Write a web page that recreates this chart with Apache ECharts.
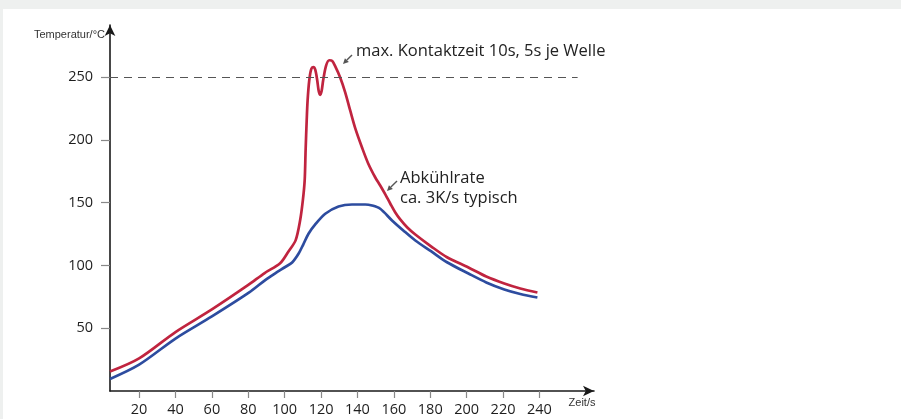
<!DOCTYPE html>
<html>
<head>
<meta charset="utf-8">
<style>
  html, body { margin: 0; padding: 0; background: #eef0ef; }
  #sheet { position: absolute; left: 3px; top: 9px; width: 898px; height: 410px; background: #ffffff; }
  #chart { position: absolute; left: 0; top: 0; width: 901px; height: 419px; }
</style>
<script src="https://cdn.jsdelivr.net/npm/echarts@6/dist/echarts.min.js"></script>
</head>
<body>
<div id="sheet"></div>
<div id="chart"></div>
<script>
// Soldering profile: board temperature over time (s, °C)
const redTime = [4, 20, 40, 60, 80, 89, 97.5, 102, 106, 108.5, 110, 111, 111.5, 112.1, 112.6,
  113.5, 114.6, 115.7, 116.8, 117.9, 118.7, 119.5, 120.3, 121.2, 122.8, 124.5, 126.1, 127.8,
  130.5, 133.3, 136, 138.8, 142.5, 145.9, 149.8, 152.5, 155.3, 158, 160.8, 163.5, 167.4,
  171.8, 180.6, 189.2, 201, 210.8, 220.7, 229.5, 238.9];
const redTemp = [15.5, 26, 47, 65, 84.5, 94, 101.8, 111, 120, 136, 152, 168, 191.6, 215.5, 231.5,
  247.4, 256.5, 258, 256, 247.4, 239, 236, 239, 248, 259.4, 263.5, 263, 258.6,
  249.8, 237.8, 223.5, 209.2, 194, 181.3, 170.1, 163.7, 156.6, 149.4, 142.2, 136.7, 130.3,
  124.7, 115.1, 106.6, 98.4, 91.2, 85.7, 81.7, 78.5];

const blueTime = [4, 20, 40, 60, 80.5, 89.3, 94.8, 100.3, 104.1, 107.6, 110.2, 113.1, 116.8,
  122.3, 129.6, 137, 144.3, 148, 152.5, 159, 165.2, 171.8, 180.6, 189.2, 201, 210.8, 220.7,
  229.5, 238.9];
const blueTemp = [9.6, 21, 41.8, 59.4, 78.5, 88.4, 93.8, 98.8, 102.4, 109.3, 116.7, 125.3, 132.7,
  141.2, 147, 148.6, 148.6, 147.8, 145.2, 135.9, 127.9, 119.9, 111.2, 102.6, 93.6, 86.5, 80.9,
  77.3, 74.5];

const xTicks = [20, 40, 60, 80, 100, 120, 140, 160, 180, 200, 220, 240];
const yTicks = [50, 100, 150, 200, 250];
const limitTemp = 250;
const limitEnd = 261;

const labelFont = '"Open Sans", "Noto Sans", sans-serif';
const smallFont = '"Liberation Sans", Arial, sans-serif';

function pairs(xs, ys) { return xs.map((x, i) => [x, ys[i]]); }

// small gray pointer arrow from tail to tip
function arrow(tail, tip) {
  const dx = tip[0] - tail[0], dy = tip[1] - tail[1];
  const len = Math.hypot(dx, dy), ux = dx / len, uy = dy / len;
  const head = 5.5, half = 2.8;
  const bx = tip[0] - ux * head, by = tip[1] - uy * head;
  return {
    type: 'group',
    children: [
      { type: 'line', shape: { x1: tail[0], y1: tail[1], x2: bx, y2: by },
        style: { stroke: '#555', lineWidth: 1.4 } },
      { type: 'polygon', shape: { points: [tip, [bx - uy * half, by + ux * half], [bx + uy * half, by - ux * half]] },
        style: { fill: '#555' } }
    ]
  };
}

const chart = echarts.init(document.getElementById('chart'), null, { renderer: 'canvas' });
chart.setOption({
  backgroundColor: 'transparent',
  animation: false,
  grid: { left: 110, right: 307, top: 25, bottom: 28, containLabel: false },
  xAxis: {
    type: 'value', min: 4, max: 270,
    splitLine: { show: false },
    axisLine: { show: true, lineStyle: { color: '#1a1a1a', width: 1.6 },
      symbol: ['none', 'arrow'], symbolSize: [8, 11] },
    axisTick: { show: true, customValues: xTicks, length: 7, lineStyle: { color: '#888', width: 1.2 } },
    axisLabel: { customValues: xTicks, margin: 11, color: '#1e1e1e', fontSize: 14.5, fontFamily: labelFont }
  },
  yAxis: {
    type: 'value', min: 0, max: 291.6,
    splitLine: { show: false },
    axisLine: { show: true, lineStyle: { color: '#1a1a1a', width: 1.6 },
      symbol: ['none', 'arrow'], symbolSize: [8, 11] },
    axisTick: { show: true, customValues: yTicks, length: 9, lineStyle: { color: '#888', width: 1.2 } },
    axisLabel: { customValues: yTicks, margin: 17, color: '#1e1e1e', fontSize: 14.5, fontFamily: labelFont }
  },
  series: [
    {
      type: 'line', name: 'Bauteil', data: pairs(blueTime, blueTemp),
      showSymbol: false, smooth: 0.3, clip: false,
      lineStyle: { color: '#2d4c9f', width: 2.7 }, z: 3
    },
    {
      type: 'line', name: 'Lötstelle', data: pairs(redTime, redTemp),
      showSymbol: false, smooth: 0.3, clip: false,
      lineStyle: { color: '#c0243f', width: 2.7 }, z: 4,
      markLine: {
        silent: true, symbol: 'none', label: { show: false },
        lineStyle: { color: '#555', width: 1, type: [8, 6] },
        data: [[{ coord: [4, limitTemp] }, { coord: [limitEnd, limitTemp] }]]
      }
    }
  ],
  graphic: [
    { type: 'text', style: { x: 105, y: 35, text: 'Temperatur/°C', font: '11px ' + smallFont,
      fill: '#333', textAlign: 'right', textVerticalAlign: 'middle' } },
    { type: 'text', style: { x: 582, y: 403, text: 'Zeit/s', font: '11px ' + smallFont,
      fill: '#333', textAlign: 'center', textVerticalAlign: 'middle' } },
    { type: 'text', style: { x: 356, y: 51, text: 'max. Kontaktzeit 10s, 5s je Welle',
      font: '16.5px ' + labelFont, fill: '#222', textVerticalAlign: 'middle' } },
    { type: 'text', style: { x: 400, y: 188.5, text: 'Abkühlrate\nca. 3K/s typisch',
      font: '16.5px ' + labelFont, lineHeight: 20, fill: '#222', textVerticalAlign: 'middle' } },
    arrow([352, 55], [343, 64]),
    arrow([397, 181], [387, 191])
  ]
});
</script>
</body>
</html>
